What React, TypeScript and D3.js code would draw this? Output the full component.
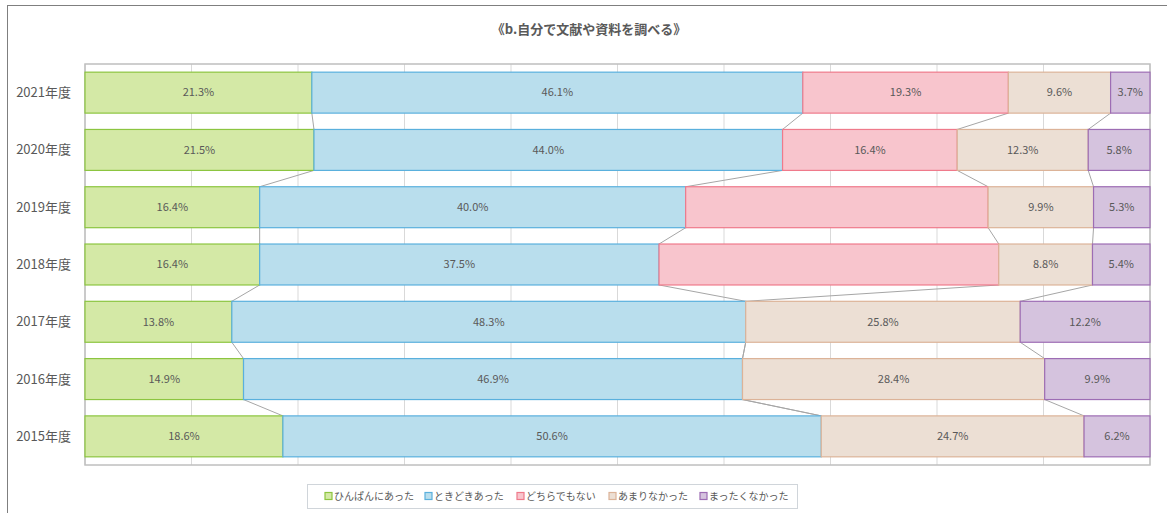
import React from "react";
import * as d3 from "d3";

const years = ["2021年度", "2020年度", "2019年度", "2018年度", "2017年度", "2016年度", "2015年度"];
const seriesNames = ["ひんぱんにあった", "ときどきあった", "どちらでもない", "あまりなかった", "まったくなかった"];
const hinpan = [21.3, 21.5, 16.4, 16.4, 13.8, 14.9, 18.6];
const tokidoki = [46.1, 44.0, 40.0, 37.5, 48.3, 46.9, 50.6];
const dochira = [19.3, 16.4, 28.4, 31.9, 0, 0, 0];
const amari = [9.6, 12.3, 9.9, 8.8, 25.8, 28.4, 24.7];
const mattaku = [3.7, 5.8, 5.3, 5.4, 12.2, 9.9, 6.2];
// labels Excel left out
const hiddenLabels = ["2-2019年度", "2-2018年度"];

const fills = ["#d4e9a6", "#b9deed", "#f8c5cd", "#ecdfd4", "#d5c3de"];
const strokes = ["#8cc540", "#5ab0dd", "#ef7a8b", "#dcb398", "#9d6db4"];

const W = 1167;
const H = 513;
const plot = { left: 85, right: 1150, top: 64, bottom: 465 };
const font = "'Noto Sans CJK JP', 'Noto Sans', sans-serif";

export default function App() {
  const rows = years.map((y, i) => ({
    year: y,
    s0: hinpan[i],
    s1: tokidoki[i],
    s2: dochira[i],
    s3: amari[i],
    s4: mattaku[i],
  }));
  const keys = ["s0", "s1", "s2", "s3", "s4"];
  const stacked = d3.stack<any>().keys(keys).offset(d3.stackOffsetExpand)(rows);

  const x = d3.scaleLinear().domain([0, 1]).range([plot.left, plot.right]);
  const y = d3
    .scaleBand()
    .domain(years)
    .range([plot.top, plot.bottom])
    .paddingInner(0.285)
    .paddingOuter(0.1425);
  const bw = y.bandwidth();
  const raw = [hinpan, tokidoki, dochira, amari, mattaku];

  // connector lines between consecutive bars
  const connectors: { x1: number; y1: number; x2: number; y2: number }[] = [];
  for (let s = 0; s < 4; s++) {
    for (let i = 0; i < years.length - 1; i++) {
      connectors.push({
        x1: x(stacked[s][i][1]),
        y1: y(years[i])! + bw,
        x2: x(stacked[s][i + 1][1]),
        y2: y(years[i + 1])!,
      });
    }
  }

  const legendX = [325, 425, 517, 609, 700];

  return (
    <svg width={W} height={H} style={{ position: "absolute", left: 0, top: 0, background: "#fff" }}>
      <rect x={7.5} y={5.5} width={1250} height={600} fill="#fff" stroke="#7f7f7f" />
      <text x={589} y={34} textAnchor="middle" fontFamily={font} fontSize={13} fontWeight="bold" fill="#595959">
        《b.自分で文献や資料を調べる》
      </text>

      {x.ticks(10).map((t) => (
        <line key={t} x1={x(t)} x2={x(t)} y1={plot.top} y2={plot.bottom} stroke="#d9d9d9" />
      ))}
      <rect
        x={plot.left}
        y={plot.top}
        width={plot.right - plot.left}
        height={plot.bottom - plot.top}
        fill="none"
        stroke="#bfbfbf"
        strokeWidth={1.5}
      />

      {connectors.map((c, i) => (
        <line key={i} x1={c.x1} y1={c.y1} x2={c.x2} y2={c.y2} stroke="#a6a6a6" />
      ))}

      {stacked.map((layer, s) =>
        layer.map((d, i) => {
          const x0 = x(d[0]);
          const x1 = x(d[1]);
          if (x1 - x0 <= 0) return null;
          return (
            <rect
              key={`${s}-${i}`}
              x={x0}
              y={y(years[i])}
              width={x1 - x0}
              height={bw}
              fill={fills[s]}
              stroke={strokes[s]}
              strokeWidth={1.2}
            />
          );
        })
      )}

      {stacked.map((layer, s) =>
        layer.map((d, i) => {
          if (raw[s][i] === 0 || hiddenLabels.includes(`${s}-${years[i]}`)) return null;
          return (
            <text
              key={`t${s}-${i}`}
              x={(x(d[0]) + x(d[1])) / 2}
              y={y(years[i])! + bw / 2}
              dy="0.35em"
              textAnchor="middle"
              fontFamily={font}
              fontSize={11}
              fill="#595959"
            >
              {raw[s][i].toFixed(1)}%
            </text>
          );
        })
      )}

      {years.map((yr) => (
        <text
          key={yr}
          x={71}
          y={y(yr)! + bw / 2}
          dy="0.35em"
          textAnchor="end"
          fontFamily={font}
          fontSize={13}
          fill="#595959"
        >
          {yr}
        </text>
      ))}

      <rect x={307.5} y={484.5} width={490} height={24} fill="#fff" stroke="#d0d5da" />
      {seriesNames.map((n, i) => (
        <g key={n}>
          <rect x={legendX[i]} y={492.5} width={7} height={7} fill={fills[i]} stroke={strokes[i]} strokeWidth={1.2} />
          <text x={legendX[i] + 9} y={496} dy="0.35em" fontFamily={font} fontSize={10} fill="#595959">
            {n}
          </text>
        </g>
      ))}
    </svg>
  );
}
